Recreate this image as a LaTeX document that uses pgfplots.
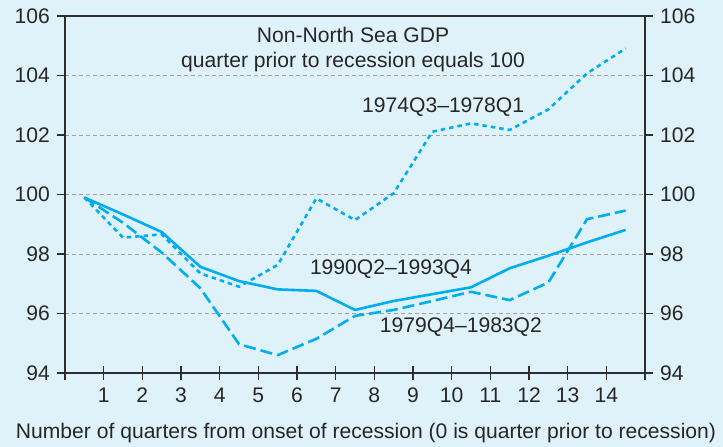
\documentclass[border=0pt]{standalone}
\usepackage{fontspec}
\setmainfont{Liberation Sans}
\usepackage{pgfplots}
\pgfplotsset{compat=1.18}
\definecolor{bg}{RGB}{223,242,250}
\definecolor{boe}{RGB}{0,174,239}
\definecolor{axisc}{RGB}{45,45,45}
\definecolor{gridc}{RGB}{160,160,160}
\pgfplotstableread{
x    solid  dashed  dotted
0.5  99.90  99.90   99.90
1.5  99.33  99.05   98.55
2.5  98.74  98.05   98.66
3.5  97.57  96.85   97.35
4.5  97.09  94.97   96.90
5.5  96.81  94.60   97.63
6.5  96.76  95.15   99.87
7.5  96.12  95.92   99.14
8.5  96.42  96.12  100.04
9.5  96.65  96.42  102.11
10.5 96.88  96.73  102.39
11.5 97.52  96.45  102.17
12.5 97.94  97.04  102.86
13.5 98.39  99.17  104.07
14.5 98.81  99.46  104.91
}\gdpdata
\begin{document}
\fontsize{21.1bp}{24bp}\selectfont
\begin{tikzpicture}
\useasboundingbox (-65bp,-74bp) rectangle (658bp,373bp);
\fill[bg] (-65bp,-74bp) rectangle (658bp,373bp);
\pgfplotsset{
  common/.style={
    scale only axis, width=580bp, height=357bp,
    xmin=0, xmax=15, ymin=94, ymax=106,
    /pgf/number format/assume math mode=true,
    tick label style={font=\fontsize{21.1bp}{24bp}\selectfont, text=black!85},
    axis line style={axisc, line width=1.2bp},
    every tick/.style={axisc, line width=1.2bp},
  }
}
% main axis: frame, x ticks, grid, data
\begin{axis}[common,
  xtick={0,...,15},
  xticklabels={,1,2,3,4,5,6,7,8,9,10,11,12,13,14,},
  xtick pos=bottom, xtick align=center,
  major tick length=14bp,
  xticklabel style={yshift=-1bp},
  ytick={96,98,...,104}, yticklabels={},
  ytick style={draw=none},
  ymajorgrids,
  grid style={gridc, line width=0.8bp, dash pattern=on 4bp off 3bp},
  clip=false,
]
\addplot[boe, line width=2.6bp, line join=round] table[x=x,y=solid] {\gdpdata};
\addplot[boe, line width=2.6bp, line join=round, dash pattern=on 12bp off 5bp] table[x=x,y=dashed] {\gdpdata};
\addplot[boe, line width=2.6bp, line join=round, dash pattern=on 4.5bp off 4bp] table[x=x,y=dotted] {\gdpdata};
\node[text=black!85] at (axis cs:7.45,105.36) {Non-North Sea GDP};
\node[text=black!85] at (axis cs:7.45,104.45) {quarter prior to recession equals 100};
\node[text=black!85] at (axis cs:9.78,102.95) {1974Q3--1978Q1};
\node[text=black!85] at (axis cs:8.43,97.5) {1990Q2--1993Q4};
\node[text=black!85] at (axis cs:10.24,95.53) {1979Q4--1983Q2};
\end{axis}
% left y ticks
\begin{axis}[common,
  hide x axis,
  axis y line*=left,
  ytick={94,96,...,106},
  ytick align=outside, major tick length=8bp,
  ytick pos=left,
]
\end{axis}
% right y ticks
\begin{axis}[common,
  hide x axis,
  axis y line*=right,
  ytick={94,96,...,106},
  ytick align=outside, major tick length=8bp,
  ytick pos=right, yticklabel pos=right,
]
\end{axis}
\node[text=black!85] at (301bp,-60bp) {Number of quarters from onset of recession (0 is quarter prior to recession)};
\end{tikzpicture}
\end{document}
